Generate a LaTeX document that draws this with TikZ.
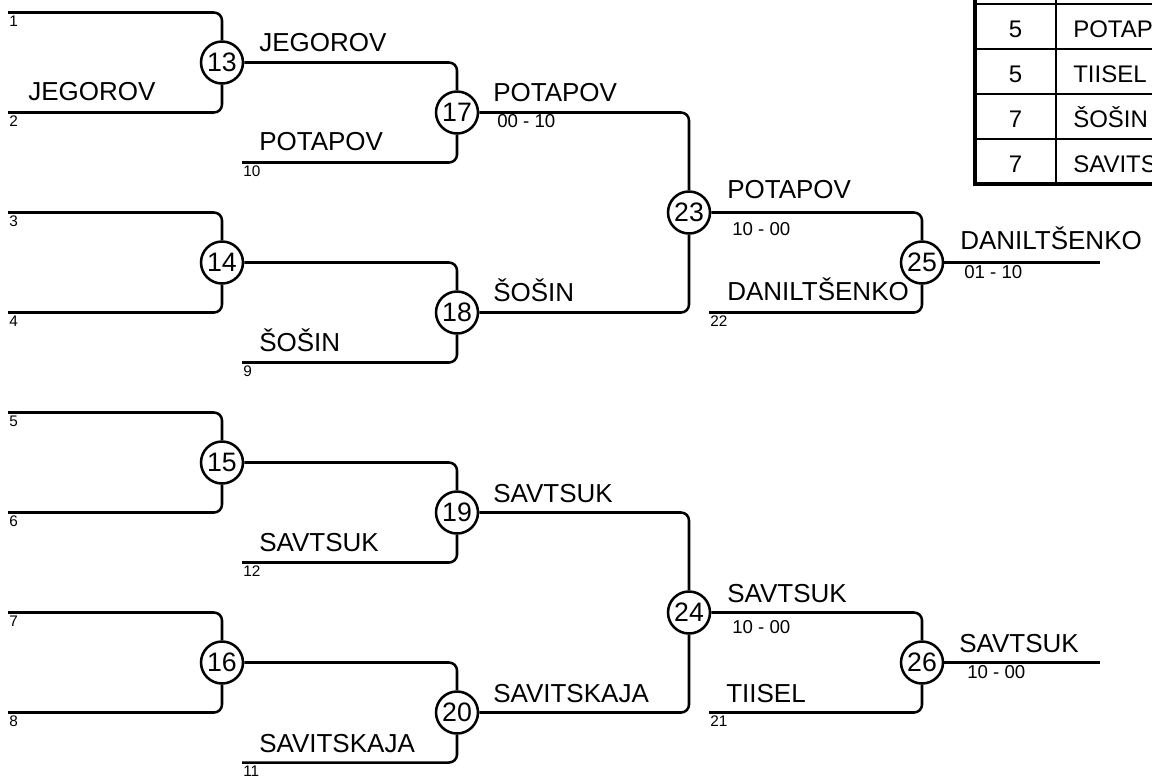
\documentclass[tikz,border=0pt]{standalone}
\usepackage{fontspec}
\setmainfont{Liberation Sans}

\begin{document}
\begin{tikzpicture}[x=0.75pt, y=-0.75pt,
  match/.style={draw, circle, line width=1.9pt, minimum size=31.5pt, inner sep=0pt, font=\fontsize{20}{22}\selectfont},
  player/.style={anchor=base west, inner sep=0pt, font=\fontsize{19.5}{22}\selectfont},
  seed/.style={anchor=north west, inner sep=0pt, font=\fontsize{11.5}{12}\selectfont},
  score/.style={anchor=north west, inner sep=0pt, font=\fontsize{14}{16}\selectfont},
  wire/.style={line width=1.9pt, rounded corners=6pt},
  cell/.style={anchor=base, inner sep=0pt, font=\fontsize{18}{20}\selectfont}]

  \useasboundingbox (0,0) rectangle (1152,776);
  \clip (0,0) rectangle (1152,776);

  % Starting lines
  \coordinate (s1) at (8, 12.5);
  \coordinate (s2) at (8, 112.5);
  \coordinate (s3) at (8, 212.5);
  \coordinate (s4) at (8, 312.5);
  \coordinate (s5) at (8, 412.5);
  \coordinate (s6) at (8, 512.5);
  \coordinate (s7) at (8, 612.5);
  \coordinate (s8) at (8, 712.5);
  \coordinate (s10) at (242, 162.5);
  \coordinate (s9) at (242, 362.5);
  \coordinate (s12) at (242, 562.5);
  \coordinate (s11) at (242, 762.5);
  \coordinate (s22) at (709, 312.5);
  \coordinate (s21) at (709, 712.5);
  \coordinate (e25) at (1100, 262.5);
  \coordinate (e26) at (1100, 662.5);

  % Matches
  \node[match] (m13) at (222, 62.5) {13};
  \node[match] (m14) at (222, 262.5) {14};
  \node[match] (m15) at (222, 462.5) {15};
  \node[match] (m16) at (222, 662.5) {16};
  \node[match] (m17) at (457, 112.5) {17};
  \node[match] (m18) at (457, 312.5) {18};
  \node[match] (m19) at (457, 512.5) {19};
  \node[match] (m20) at (457, 712.5) {20};
  \node[match] (m23) at (689, 212.5) {23};
  \node[match] (m24) at (689, 612.5) {24};
  \node[match] (m25) at (922, 262.5) {25};
  \node[match] (m26) at (922, 662.5) {26};

  \foreach \m/\a/\b in {13/1/2, 14/3/4, 15/5/6, 16/7/8, 17/13/10, 18/14/9, 19/15/12, 20/16/11} {
    \ifnum\a>12
      \draw[wire] (m\a.east) -| (m\m.north);
    \else
      \draw[wire] (s\a) -| (m\m.north);
    \fi
    \draw[wire] (s\b) -| (m\m.south);
  }
  \draw[wire] (m17.east) -| (m23.north);
  \draw[wire] (m18.east) -| (m23.south);
  \draw[wire] (m19.east) -| (m24.north);
  \draw[wire] (m20.east) -| (m24.south);
  \draw[wire] (m23.east) -| (m25.north);
  \draw[wire] (s22) -| (m25.south);
  \draw[wire] (m24.east) -| (m26.north);
  \draw[wire] (s21) -| (m26.south);
  \draw[wire] (m25.east) -- (e25);
  \draw[wire] (m26.east) -- (e26);

  % Seed numbers
  \foreach \s in {1,...,12,21,22}
    \node[seed, xshift=0.75pt, yshift=-2.2pt] (n\s) at (s\s) {\s};

  % Names
  \node[player] (p2) at (28, 100) {JEGOROV};
  \node[player] (w13) at (259, 51) {JEGOROV};
  \node[player] (p10) at (259, 150) {POTAPOV};
  \node[player] (w17) at (493, 101) {POTAPOV};
  \node[player] (w18) at (493, 301) {ŠOŠIN};
  \node[player] (p9) at (259, 351) {ŠOŠIN};
  \node[player] (w23) at (727, 198) {POTAPOV};
  \node[player] (p22) at (727, 300) {DANILTŠENKO};
  \node[player] (w25) at (960, 249) {DANILTŠENKO};
  \node[player] (w19) at (493, 502) {SAVTSUK};
  \node[player] (p12) at (259, 551) {SAVTSUK};
  \node[player] (w20) at (493, 702) {SAVITSKAJA};
  \node[player] (p11) at (259, 752) {SAVITSKAJA};
  \node[player] (w24) at (727, 602) {SAVTSUK};
  \node[player] (p21) at (726, 702) {TIISEL};
  \node[player] (w26) at (959, 652) {SAVTSUK};

  % Scores
  \node[score] (r17) at (497, 114.5) {00 - 10};
  \node[score] (r23) at (732, 222) {10 - 00};
  \node[score] (r25) at (964, 265) {01 - 10};
  \node[score] (r24) at (732, 620) {10 - 00};
  \node[score] (r26) at (967, 665) {10 - 00};

  % Standings
  \foreach \y in {4, 49, 94, 139}
    \draw[line width=1.4pt] (975, \y) -- (1160, \y);
  \draw[line width=3pt] (975, 183.5) -- (1160, 183.5);
  \draw[line width=3pt] (975, -10) -- (975, 185.5);
  \draw[line width=1.4pt] (1056, -10) -- (1056, 183.5);
  \foreach \r/\p/\n in {0/5/POTAPOV, 1/5/TIISEL, 2/7/ŠOŠIN, 3/7/SAVITSKAJA} {
    \node[cell] (rank\r) at (1015.5, 37+45*\r) {\p};
    \node[cell, anchor=base west] (name\r) at (1073, 37+45*\r) {\n};
  }

\end{tikzpicture}
\end{document}
